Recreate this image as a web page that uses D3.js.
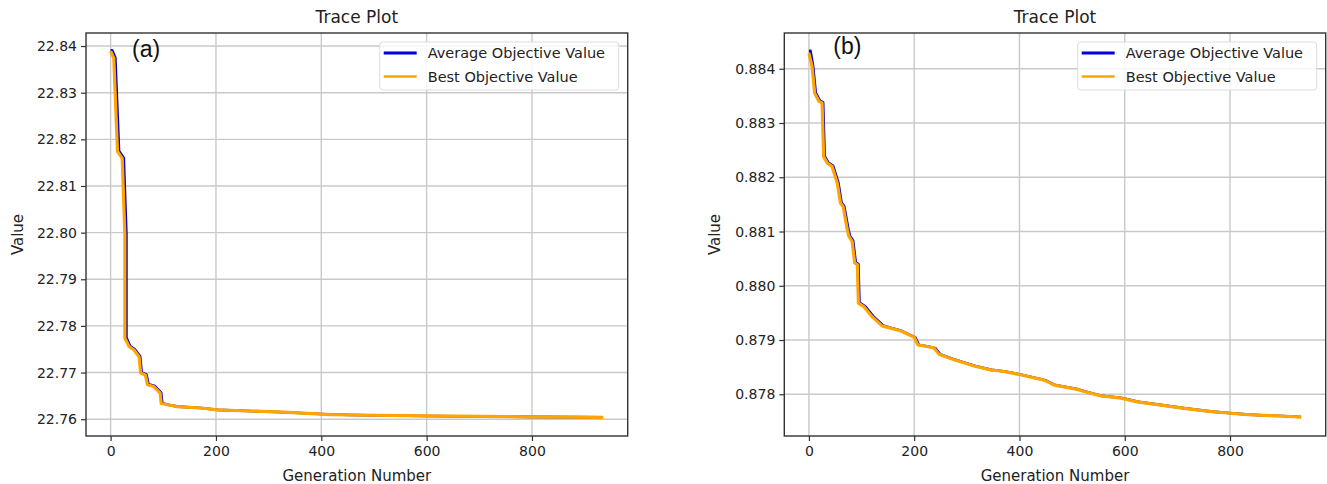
<!DOCTYPE html>
<html>
<head>
<meta charset="utf-8">
<script src="https://d3js.org/d3.v7.min.js"></script>
<style>
  body { margin: 0; background: #fff; }
  text { font-family: "DejaVu Sans", sans-serif; fill: #222; }
</style>
</head>
<body>
<div id="chart"></div>
<script>
// panel (a) - generations and values
var genBestA = [0, 6, 13, 22, 27, 27, 35, 44, 54, 57, 66, 70, 82, 94, 96, 108, 127, 171, 203, 329, 418, 456, 601, 798, 935];
var bestA = [22.8389, 22.8374, 22.8174, 22.8159, 22.7995, 22.7774, 22.7756, 22.7749, 22.7734, 22.7699, 22.7695, 22.7674, 22.7670, 22.7656, 22.7634, 22.7631, 22.7627, 22.7624, 22.7620, 22.7615, 22.7610, 22.7609, 22.7607, 22.7605, 22.7604];
var genAvgA = [0, 3, 9, 16, 25, 30, 30, 37, 46, 56, 59, 68, 72, 84, 96, 98, 109, 128, 172, 204, 330, 419, 457, 602, 799, 935];
var avgA = [22.8391, 22.8391, 22.8375, 22.8175, 22.8160, 22.7996, 22.7775, 22.7757, 22.7750, 22.7735, 22.7700, 22.7696, 22.7675, 22.7671, 22.7657, 22.7635, 22.7631, 22.7627, 22.7624, 22.7620, 22.7615, 22.7610, 22.7609, 22.7607, 22.7605, 22.7604];

// panel (b)
var genBestB = [0, 6, 11, 19, 25, 28, 35, 44, 54, 60, 65, 73, 76, 82, 87, 92, 94, 105, 120, 139, 155, 174, 200, 207, 225, 238, 247, 269, 288, 314, 345, 371, 402, 447, 466, 510, 523, 555, 593, 624, 669, 713, 764, 802, 827, 865, 897, 935];
var bestB = [0.88429, 0.88404, 0.88355, 0.88340, 0.88337, 0.88238, 0.88226, 0.88220, 0.88189, 0.88152, 0.88146, 0.88103, 0.88091, 0.88082, 0.88042, 0.88039, 0.87968, 0.87961, 0.87943, 0.87926, 0.87922, 0.87917, 0.87905, 0.87891, 0.87888, 0.87885, 0.87874, 0.87866, 0.87860, 0.87852, 0.87845, 0.87842, 0.87836, 0.87826, 0.87817, 0.87809, 0.87805, 0.87797, 0.87793, 0.87786, 0.87780, 0.87774, 0.87768, 0.87765, 0.87763, 0.87761, 0.87760, 0.87758];
var genAvgB = [0, 3, 8, 13, 21, 27, 30, 37, 46, 56, 62, 67, 75, 78, 84, 89, 94, 96, 107, 122, 141, 157, 176, 202, 209, 227, 240, 249, 271, 290, 316, 347, 373, 404, 449, 468, 512, 525, 557, 595, 626, 671, 715, 766, 804, 829, 867, 899, 935];
var avgB = [0.88433, 0.88433, 0.88405, 0.88356, 0.88341, 0.88338, 0.88239, 0.88227, 0.88221, 0.88190, 0.88153, 0.88147, 0.88104, 0.88092, 0.88083, 0.88043, 0.88040, 0.87969, 0.87962, 0.87944, 0.87927, 0.87922, 0.87917, 0.87905, 0.87891, 0.87888, 0.87885, 0.87874, 0.87866, 0.87860, 0.87852, 0.87845, 0.87842, 0.87836, 0.87826, 0.87817, 0.87809, 0.87805, 0.87797, 0.87793, 0.87786, 0.87780, 0.87774, 0.87768, 0.87765, 0.87763, 0.87761, 0.87760, 0.87758];

var xTicks = [0, 200, 400, 600, 800];
var yTicksA = [22.76, 22.77, 22.78, 22.79, 22.80, 22.81, 22.82, 22.83, 22.84];
var yTicksB = [0.878, 0.879, 0.880, 0.881, 0.882, 0.883, 0.884];
var seriesNames = ["Average Objective Value", "Best Objective Value"];
var seriesColors = ["#0000d8", "#ffa500"];

var svg = d3.select("#chart")
  .append("svg")
  .attr("width", 1327)
  .attr("height", 484);

function tracePanel(opts) {
  var left = opts.left, top = 33, w = opts.width, h = 403;
  var g = svg.append("g").attr("transform", "translate(" + left + "," + top + ")");

  // matplotlib style 5% margins
  var xs = d3.scaleLinear().domain([-46.75, 981.75]).range([0, w]);
  var ys = d3.scaleLinear().domain(opts.yDomain).range([h, 0]);

  // grid
  g.append("g")
    .selectAll("line.vg")
    .data(xTicks)
    .enter()
    .append("line")
    .attr("x1", function(d) { return xs(d); })
    .attr("x2", function(d) { return xs(d); })
    .attr("y1", 0)
    .attr("y2", h)
    .style("stroke", "#c9c9c9")
    .style("stroke-width", 1.4);
  g.append("g")
    .selectAll("line.hg")
    .data(opts.yTicks)
    .enter()
    .append("line")
    .attr("x1", 0)
    .attr("x2", w)
    .attr("y1", function(d) { return ys(d); })
    .attr("y2", function(d) { return ys(d); })
    .style("stroke", "#c9c9c9")
    .style("stroke-width", 1.4);

  // lines
  var line = d3.line()
    .x(function(d) { return xs(d[0]); })
    .y(function(d) { return ys(d[1]); });
  var series = [d3.zip(opts.genAvg, opts.avg), d3.zip(opts.genBest, opts.best)];
  g.selectAll("path.trace")
    .data(series)
    .enter()
    .append("path")
    .attr("class", "trace")
    .attr("d", line)
    .style("fill", "none")
    .style("stroke", function(d, i) { return seriesColors[i]; })
    .style("stroke-width", function(d, i) { return i == 0 ? 2.6 : 3.2; })
    .style("stroke-linejoin", "round");

  // axes
  var xAxis = d3.axisBottom(xs).tickValues(xTicks).tickSize(5).tickPadding(5).tickFormat(d3.format("d"));
  var yAxis = d3.axisLeft(ys).tickValues(opts.yTicks).tickSize(5).tickPadding(4).tickFormat(d3.format(opts.fmt));
  var gx = g.append("g").attr("transform", "translate(0," + h + ")").call(xAxis);
  var gy = g.append("g").call(yAxis);
  [gx, gy].forEach(function(a) {
    a.select(".domain").remove();
    a.selectAll("line").style("stroke", "#333").style("stroke-width", 1.2);
    a.selectAll("text").style("font-family", "DejaVu Sans").style("font-size", "14px").style("fill", "#222");
  });

  g.append("rect")
    .attr("width", w)
    .attr("height", h)
    .style("fill", "none")
    .style("stroke", "#333")
    .style("stroke-width", 1.4);

  // titles
  g.append("text")
    .attr("x", w / 2)
    .attr("y", -10)
    .attr("text-anchor", "middle")
    .style("font-size", "17px")
    .text("Trace Plot");
  g.append("text")
    .attr("x", w / 2)
    .attr("y", h + 45)
    .attr("text-anchor", "middle")
    .style("font-size", "15px")
    .text("Generation Number");
  g.append("text")
    .attr("transform", "translate(" + opts.ylabX + "," + (h / 2) + ") rotate(-90)")
    .attr("text-anchor", "middle")
    .style("font-size", "15px")
    .text("Value");
  g.append("text")
    .attr("x", opts.tagX)
    .attr("y", opts.tagY)
    .style("font-family", "Liberation Sans, Arial, sans-serif")
    .style("font-size", "23px")
    .style("fill", "#111")
    .text(opts.tag);

  // legend
  var lg = g.append("g").attr("transform", "translate(" + (w - 248) + ",9)");
  lg.append("rect")
    .attr("width", 239)
    .attr("height", 48)
    .attr("rx", 3)
    .style("fill", "#fff")
    .style("fill-opacity", 0.85)
    .style("stroke", "#ddd");
  seriesNames.forEach(function(name, i) {
    lg.append("line")
      .attr("x1", 4).attr("x2", 37)
      .attr("y1", 11 + i * 23.5).attr("y2", 11 + i * 23.5)
      .style("stroke", seriesColors[i])
      .style("stroke-width", i == 0 ? 3 : 2.5);
    lg.append("text")
      .attr("x", 48)
      .attr("y", 16 + i * 23.5)
      .style("font-size", "14.5px")
      .text(name);
  });
}

tracePanel({ left: 86, width: 541.7, yDomain: [22.7564, 22.8428], yTicks: yTicksA, fmt: ".2f",
  genAvg: genAvgA, avg: avgA, genBest: genBestA, best: bestA, ylabX: -63, tag: "(a)", tagX: 46, tagY: 24 });
tracePanel({ left: 784.3, width: 541.4, yDomain: [0.877231, 0.884659], yTicks: yTicksB, fmt: ".3f",
  genAvg: genAvgB, avg: avgB, genBest: genBestB, best: bestB, ylabX: -64, tag: "(b)", tagX: 49, tagY: 21 });
</script>
</body>
</html>
